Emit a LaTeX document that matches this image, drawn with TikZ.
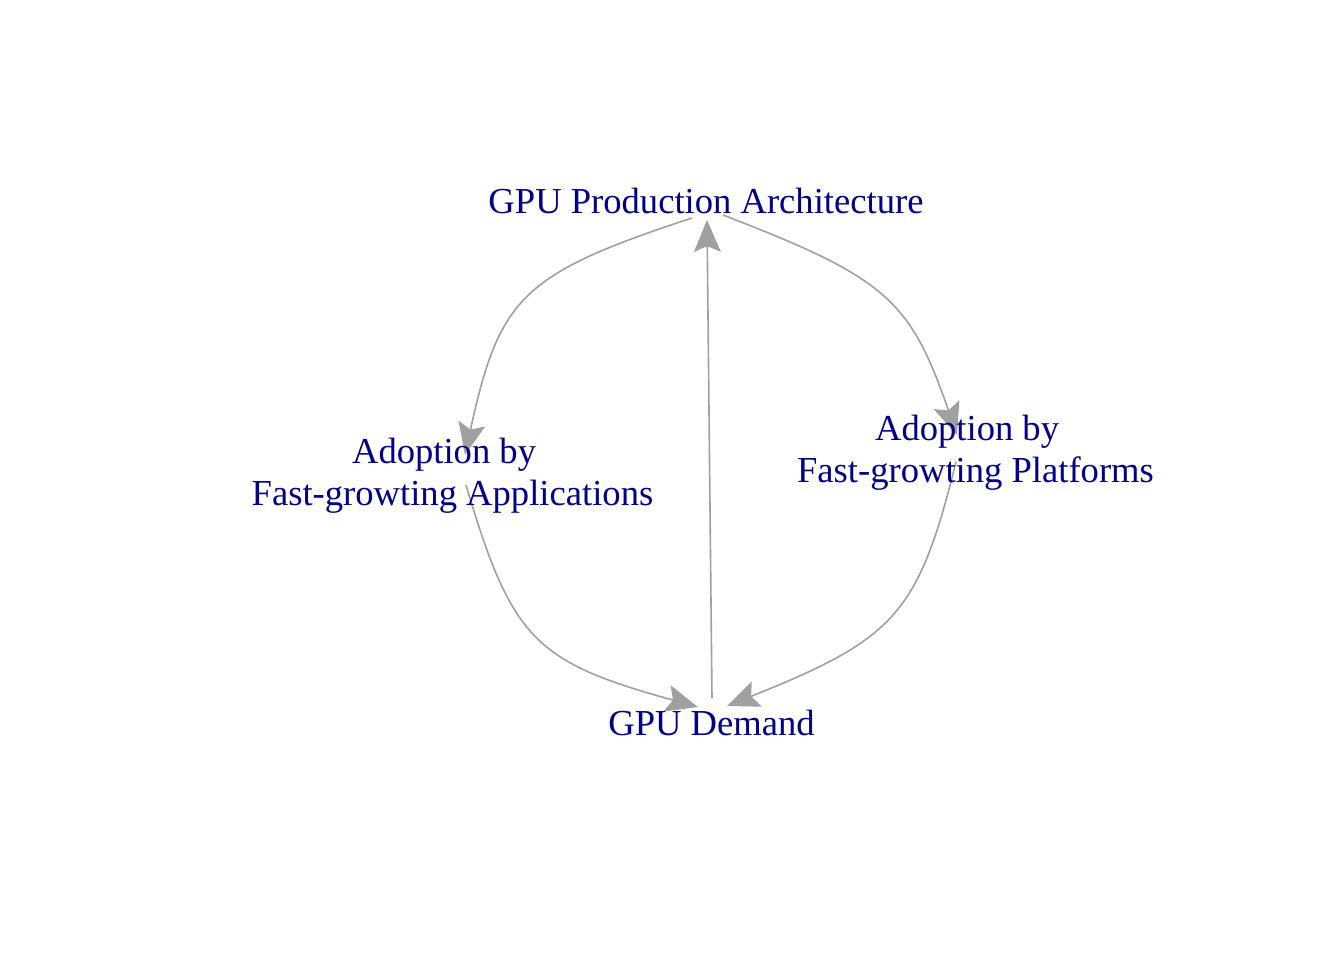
\documentclass[tikz,border=0pt]{standalone}
\usepackage{fontspec}
\setmainfont{Liberation Serif}
\usetikzlibrary{arrows.meta}
\definecolor{labelblue}{RGB}{0,0,139}
\definecolor{edgegray}{RGB}{160,160,160}
\begin{document}
\begin{tikzpicture}[x={(0.5pt,0)}, y={(0,-0.5pt)},
  lbl/.style={text=labelblue, font=\fontsize{18.3pt}{21pt}\selectfont, inner sep=0pt, anchor=base, align=center},
  conn/.style={draw=edgegray, line width=0.8pt, -{Stealth[length=16pt,width=13.5pt,inset=3pt]}}]
\fill[white] (0,0) rectangle (1344,960);
\useasboundingbox (0,0) rectangle (1344,960);

% connector end points around each vertex
\coordinate (topL) at (692,218);
\coordinate (topR) at (723,215);
\coordinate (topB) at (707,220);
\coordinate (leftT) at (465,455);
\coordinate (leftB) at (466,485);
\coordinate (rightT) at (957,435);
\coordinate (rightB) at (956,462);
\coordinate (botL) at (698,707);
\coordinate (botR) at (727,706);
\coordinate (botT) at (712,698);

% connectors
\draw[conn] (topL) .. controls (521.9,273.8) and (499.2,297.5) .. (leftT);
\draw[conn] (topR) .. controls (886.8,278) and (910.2,300) .. (rightT);
\draw[conn] (botT) -- (topB);
\draw[conn] (leftB) .. controls (511.9,639.8) and (535.1,662) .. (botL);
\draw[conn] (rightB) .. controls (918.2,614.1) and (895.3,638.5) .. (botR);

% labels (base anchor = baseline of the last line)
\node[lbl] (top) at (706,213) {GPU Production Architecture};
\node[lbl] (left) at (452.5,505) {Adoption by\hspace*{0.46em}\\Fast-growting Applications};
\node[lbl] (right) at (975.5,482) {Adoption by\hspace*{0.46em}\\Fast-growting Platforms};
\node[lbl] (bot) at (711.5,735) {GPU Demand};
\end{tikzpicture}
\end{document}
